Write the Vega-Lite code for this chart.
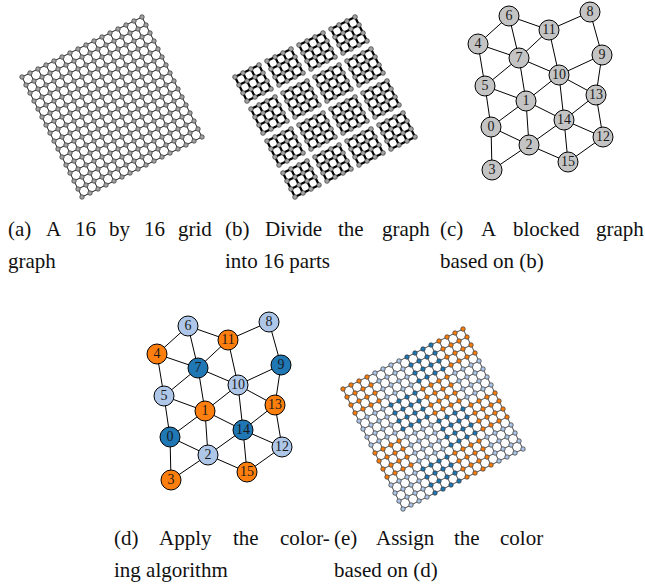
{
"$schema":"https://vega.github.io/schema/vega-lite/v6.json",
"width":645,"height":586,
"autosize":{"type":"fit","contains":"padding"},
"padding":0,
"background":"white",
"config":{"view":{"stroke":null}},
"resolve":{"scale":{"x":"independent","y":"independent"}},
"datasets":{
"nodes":[
{"id":0,"x":491,"y":127,"c":"d"},{"id":1,"x":526,"y":101,"c":"o"},{"id":2,"x":529,"y":145,"c":"l"},{"id":3,"x":492,"y":170,"c":"o"},
{"id":4,"x":478,"y":44,"c":"o"},{"id":5,"x":485,"y":86,"c":"l"},{"id":6,"x":509,"y":16,"c":"l"},{"id":7,"x":519,"y":58,"c":"d"},
{"id":8,"x":590,"y":12,"c":"l"},{"id":9,"x":602,"y":55,"c":"d"},{"id":10,"x":559,"y":75,"c":"l"},{"id":11,"x":549,"y":30,"c":"o"},
{"id":12,"x":603,"y":137,"c":"l"},{"id":13,"x":596,"y":95,"c":"o"},{"id":14,"x":564,"y":120,"c":"d"},{"id":15,"x":568,"y":162,"c":"o"}],
"edges":[
{"a":4,"b":6},{"a":6,"b":11},{"a":11,"b":8},{"a":4,"b":7},{"a":6,"b":7},{"a":7,"b":11},{"a":11,"b":10},{"a":8,"b":9},
{"a":7,"b":10},{"a":9,"b":10},{"a":9,"b":13},{"a":10,"b":13},{"a":10,"b":14},{"a":10,"b":1},{"a":5,"b":7},{"a":4,"b":5},
{"a":5,"b":1},{"a":5,"b":0},{"a":1,"b":7},{"a":1,"b":0},{"a":1,"b":2},{"a":1,"b":14},{"a":0,"b":2},{"a":0,"b":3},
{"a":3,"b":2},{"a":2,"b":14},{"a":2,"b":15},{"a":14,"b":15},{"a":14,"b":13},{"a":14,"b":12},{"a":13,"b":12},{"a":12,"b":15}],
"words":[
{"t":"(a)","x":8,"y":236},{"t":"A","x":46,"y":236},{"t":"16","x":75,"y":236},{"t":"by","x":109,"y":236},{"t":"16","x":144,"y":236},{"t":"grid","x":178,"y":236},
{"t":"(b)","x":225,"y":236},{"t":"Divide","x":265,"y":236},{"t":"the","x":338,"y":236},{"t":"graph","x":382,"y":236},
{"t":"(c)","x":440,"y":236},{"t":"A","x":481,"y":236},{"t":"blocked","x":513,"y":236},{"t":"graph","x":596,"y":236},
{"t":"graph","x":8,"y":268},{"t":"into 16 parts","x":225,"y":268},{"t":"based on (b)","x":440,"y":268},
{"t":"(d)","x":114,"y":545},{"t":"Apply","x":159,"y":545},{"t":"the","x":233,"y":545},{"t":"color-","x":280,"y":545},
{"t":"(e)","x":334,"y":545},{"t":"Assign","x":376,"y":545},{"t":"the","x":454,"y":545},{"t":"color","x":500,"y":545},
{"t":"ing algorithm","x":114,"y":577},{"t":"based on (d)","x":334,"y":577}],
"grid":[
{"i":0,"j":0,"x":0,"y":0,"b":4},{"i":0,"j":1,"x":1,"y":2,"b":4},{"i":0,"j":2,"x":2,"y":4,"b":4},{"i":0,"j":3,"x":3,"y":6,"b":4},
{"i":0,"j":4,"x":4,"y":8,"b":6},{"i":0,"j":5,"x":5,"y":10,"b":6},{"i":0,"j":6,"x":6,"y":12,"b":6},{"i":0,"j":7,"x":7,"y":14,"b":6},
{"i":0,"j":8,"x":8,"y":16,"b":11},{"i":0,"j":9,"x":9,"y":18,"b":11},{"i":0,"j":10,"x":10,"y":20,"b":11},{"i":0,"j":11,"x":11,"y":22,"b":11},
{"i":0,"j":12,"x":12,"y":24,"b":8},{"i":0,"j":13,"x":13,"y":26,"b":8},{"i":0,"j":14,"x":14,"y":28,"b":8},{"i":0,"j":15,"x":15,"y":30,"b":8},
{"i":1,"j":0,"x":2,"y":-1,"b":4},{"i":1,"j":1,"x":3,"y":1,"b":4},{"i":1,"j":2,"x":4,"y":3,"b":4},{"i":1,"j":3,"x":5,"y":5,"b":4},
{"i":1,"j":4,"x":6,"y":7,"b":6},{"i":1,"j":5,"x":7,"y":9,"b":6},{"i":1,"j":6,"x":8,"y":11,"b":6},{"i":1,"j":7,"x":9,"y":13,"b":6},
{"i":1,"j":8,"x":10,"y":15,"b":11},{"i":1,"j":9,"x":11,"y":17,"b":11},{"i":1,"j":10,"x":12,"y":19,"b":11},{"i":1,"j":11,"x":13,"y":21,"b":11},
{"i":1,"j":12,"x":14,"y":23,"b":8},{"i":1,"j":13,"x":15,"y":25,"b":8},{"i":1,"j":14,"x":16,"y":27,"b":8},{"i":1,"j":15,"x":17,"y":29,"b":8},
{"i":2,"j":0,"x":4,"y":-2,"b":4},{"i":2,"j":1,"x":5,"y":0,"b":4},{"i":2,"j":2,"x":6,"y":2,"b":4},{"i":2,"j":3,"x":7,"y":4,"b":4},
{"i":2,"j":4,"x":8,"y":6,"b":6},{"i":2,"j":5,"x":9,"y":8,"b":6},{"i":2,"j":6,"x":10,"y":10,"b":6},{"i":2,"j":7,"x":11,"y":12,"b":6},
{"i":2,"j":8,"x":12,"y":14,"b":11},{"i":2,"j":9,"x":13,"y":16,"b":11},{"i":2,"j":10,"x":14,"y":18,"b":11},{"i":2,"j":11,"x":15,"y":20,"b":11},
{"i":2,"j":12,"x":16,"y":22,"b":8},{"i":2,"j":13,"x":17,"y":24,"b":8},{"i":2,"j":14,"x":18,"y":26,"b":8},{"i":2,"j":15,"x":19,"y":28,"b":8},
{"i":3,"j":0,"x":6,"y":-3,"b":4},{"i":3,"j":1,"x":7,"y":-1,"b":4},{"i":3,"j":2,"x":8,"y":1,"b":4},{"i":3,"j":3,"x":9,"y":3,"b":4},
{"i":3,"j":4,"x":10,"y":5,"b":6},{"i":3,"j":5,"x":11,"y":7,"b":6},{"i":3,"j":6,"x":12,"y":9,"b":6},{"i":3,"j":7,"x":13,"y":11,"b":6},
{"i":3,"j":8,"x":14,"y":13,"b":11},{"i":3,"j":9,"x":15,"y":15,"b":11},{"i":3,"j":10,"x":16,"y":17,"b":11},{"i":3,"j":11,"x":17,"y":19,"b":11},
{"i":3,"j":12,"x":18,"y":21,"b":8},{"i":3,"j":13,"x":19,"y":23,"b":8},{"i":3,"j":14,"x":20,"y":25,"b":8},{"i":3,"j":15,"x":21,"y":27,"b":8},
{"i":4,"j":0,"x":8,"y":-4,"b":5},{"i":4,"j":1,"x":9,"y":-2,"b":5},{"i":4,"j":2,"x":10,"y":0,"b":5},{"i":4,"j":3,"x":11,"y":2,"b":5},
{"i":4,"j":4,"x":12,"y":4,"b":7},{"i":4,"j":5,"x":13,"y":6,"b":7},{"i":4,"j":6,"x":14,"y":8,"b":7},{"i":4,"j":7,"x":15,"y":10,"b":7},
{"i":4,"j":8,"x":16,"y":12,"b":10},{"i":4,"j":9,"x":17,"y":14,"b":10},{"i":4,"j":10,"x":18,"y":16,"b":10},{"i":4,"j":11,"x":19,"y":18,"b":10},
{"i":4,"j":12,"x":20,"y":20,"b":9},{"i":4,"j":13,"x":21,"y":22,"b":9},{"i":4,"j":14,"x":22,"y":24,"b":9},{"i":4,"j":15,"x":23,"y":26,"b":9},
{"i":5,"j":0,"x":10,"y":-5,"b":5},{"i":5,"j":1,"x":11,"y":-3,"b":5},{"i":5,"j":2,"x":12,"y":-1,"b":5},{"i":5,"j":3,"x":13,"y":1,"b":5},
{"i":5,"j":4,"x":14,"y":3,"b":7},{"i":5,"j":5,"x":15,"y":5,"b":7},{"i":5,"j":6,"x":16,"y":7,"b":7},{"i":5,"j":7,"x":17,"y":9,"b":7},
{"i":5,"j":8,"x":18,"y":11,"b":10},{"i":5,"j":9,"x":19,"y":13,"b":10},{"i":5,"j":10,"x":20,"y":15,"b":10},{"i":5,"j":11,"x":21,"y":17,"b":10},
{"i":5,"j":12,"x":22,"y":19,"b":9},{"i":5,"j":13,"x":23,"y":21,"b":9},{"i":5,"j":14,"x":24,"y":23,"b":9},{"i":5,"j":15,"x":25,"y":25,"b":9},
{"i":6,"j":0,"x":12,"y":-6,"b":5},{"i":6,"j":1,"x":13,"y":-4,"b":5},{"i":6,"j":2,"x":14,"y":-2,"b":5},{"i":6,"j":3,"x":15,"y":0,"b":5},
{"i":6,"j":4,"x":16,"y":2,"b":7},{"i":6,"j":5,"x":17,"y":4,"b":7},{"i":6,"j":6,"x":18,"y":6,"b":7},{"i":6,"j":7,"x":19,"y":8,"b":7},
{"i":6,"j":8,"x":20,"y":10,"b":10},{"i":6,"j":9,"x":21,"y":12,"b":10},{"i":6,"j":10,"x":22,"y":14,"b":10},{"i":6,"j":11,"x":23,"y":16,"b":10},
{"i":6,"j":12,"x":24,"y":18,"b":9},{"i":6,"j":13,"x":25,"y":20,"b":9},{"i":6,"j":14,"x":26,"y":22,"b":9},{"i":6,"j":15,"x":27,"y":24,"b":9},
{"i":7,"j":0,"x":14,"y":-7,"b":5},{"i":7,"j":1,"x":15,"y":-5,"b":5},{"i":7,"j":2,"x":16,"y":-3,"b":5},{"i":7,"j":3,"x":17,"y":-1,"b":5},
{"i":7,"j":4,"x":18,"y":1,"b":7},{"i":7,"j":5,"x":19,"y":3,"b":7},{"i":7,"j":6,"x":20,"y":5,"b":7},{"i":7,"j":7,"x":21,"y":7,"b":7},
{"i":7,"j":8,"x":22,"y":9,"b":10},{"i":7,"j":9,"x":23,"y":11,"b":10},{"i":7,"j":10,"x":24,"y":13,"b":10},{"i":7,"j":11,"x":25,"y":15,"b":10},
{"i":7,"j":12,"x":26,"y":17,"b":9},{"i":7,"j":13,"x":27,"y":19,"b":9},{"i":7,"j":14,"x":28,"y":21,"b":9},{"i":7,"j":15,"x":29,"y":23,"b":9},
{"i":8,"j":0,"x":16,"y":-8,"b":0},{"i":8,"j":1,"x":17,"y":-6,"b":0},{"i":8,"j":2,"x":18,"y":-4,"b":0},{"i":8,"j":3,"x":19,"y":-2,"b":0},
{"i":8,"j":4,"x":20,"y":0,"b":1},{"i":8,"j":5,"x":21,"y":2,"b":1},{"i":8,"j":6,"x":22,"y":4,"b":1},{"i":8,"j":7,"x":23,"y":6,"b":1},
{"i":8,"j":8,"x":24,"y":8,"b":14},{"i":8,"j":9,"x":25,"y":10,"b":14},{"i":8,"j":10,"x":26,"y":12,"b":14},{"i":8,"j":11,"x":27,"y":14,"b":14},
{"i":8,"j":12,"x":28,"y":16,"b":13},{"i":8,"j":13,"x":29,"y":18,"b":13},{"i":8,"j":14,"x":30,"y":20,"b":13},{"i":8,"j":15,"x":31,"y":22,"b":13},
{"i":9,"j":0,"x":18,"y":-9,"b":0},{"i":9,"j":1,"x":19,"y":-7,"b":0},{"i":9,"j":2,"x":20,"y":-5,"b":0},{"i":9,"j":3,"x":21,"y":-3,"b":0},
{"i":9,"j":4,"x":22,"y":-1,"b":1},{"i":9,"j":5,"x":23,"y":1,"b":1},{"i":9,"j":6,"x":24,"y":3,"b":1},{"i":9,"j":7,"x":25,"y":5,"b":1},
{"i":9,"j":8,"x":26,"y":7,"b":14},{"i":9,"j":9,"x":27,"y":9,"b":14},{"i":9,"j":10,"x":28,"y":11,"b":14},{"i":9,"j":11,"x":29,"y":13,"b":14},
{"i":9,"j":12,"x":30,"y":15,"b":13},{"i":9,"j":13,"x":31,"y":17,"b":13},{"i":9,"j":14,"x":32,"y":19,"b":13},{"i":9,"j":15,"x":33,"y":21,"b":13},
{"i":10,"j":0,"x":20,"y":-10,"b":0},{"i":10,"j":1,"x":21,"y":-8,"b":0},{"i":10,"j":2,"x":22,"y":-6,"b":0},{"i":10,"j":3,"x":23,"y":-4,"b":0},
{"i":10,"j":4,"x":24,"y":-2,"b":1},{"i":10,"j":5,"x":25,"y":0,"b":1},{"i":10,"j":6,"x":26,"y":2,"b":1},{"i":10,"j":7,"x":27,"y":4,"b":1},
{"i":10,"j":8,"x":28,"y":6,"b":14},{"i":10,"j":9,"x":29,"y":8,"b":14},{"i":10,"j":10,"x":30,"y":10,"b":14},{"i":10,"j":11,"x":31,"y":12,"b":14},
{"i":10,"j":12,"x":32,"y":14,"b":13},{"i":10,"j":13,"x":33,"y":16,"b":13},{"i":10,"j":14,"x":34,"y":18,"b":13},{"i":10,"j":15,"x":35,"y":20,"b":13},
{"i":11,"j":0,"x":22,"y":-11,"b":0},{"i":11,"j":1,"x":23,"y":-9,"b":0},{"i":11,"j":2,"x":24,"y":-7,"b":0},{"i":11,"j":3,"x":25,"y":-5,"b":0},
{"i":11,"j":4,"x":26,"y":-3,"b":1},{"i":11,"j":5,"x":27,"y":-1,"b":1},{"i":11,"j":6,"x":28,"y":1,"b":1},{"i":11,"j":7,"x":29,"y":3,"b":1},
{"i":11,"j":8,"x":30,"y":5,"b":14},{"i":11,"j":9,"x":31,"y":7,"b":14},{"i":11,"j":10,"x":32,"y":9,"b":14},{"i":11,"j":11,"x":33,"y":11,"b":14},
{"i":11,"j":12,"x":34,"y":13,"b":13},{"i":11,"j":13,"x":35,"y":15,"b":13},{"i":11,"j":14,"x":36,"y":17,"b":13},{"i":11,"j":15,"x":37,"y":19,"b":13},
{"i":12,"j":0,"x":24,"y":-12,"b":3},{"i":12,"j":1,"x":25,"y":-10,"b":3},{"i":12,"j":2,"x":26,"y":-8,"b":3},{"i":12,"j":3,"x":27,"y":-6,"b":3},
{"i":12,"j":4,"x":28,"y":-4,"b":2},{"i":12,"j":5,"x":29,"y":-2,"b":2},{"i":12,"j":6,"x":30,"y":0,"b":2},{"i":12,"j":7,"x":31,"y":2,"b":2},
{"i":12,"j":8,"x":32,"y":4,"b":15},{"i":12,"j":9,"x":33,"y":6,"b":15},{"i":12,"j":10,"x":34,"y":8,"b":15},{"i":12,"j":11,"x":35,"y":10,"b":15},
{"i":12,"j":12,"x":36,"y":12,"b":12},{"i":12,"j":13,"x":37,"y":14,"b":12},{"i":12,"j":14,"x":38,"y":16,"b":12},{"i":12,"j":15,"x":39,"y":18,"b":12},
{"i":13,"j":0,"x":26,"y":-13,"b":3},{"i":13,"j":1,"x":27,"y":-11,"b":3},{"i":13,"j":2,"x":28,"y":-9,"b":3},{"i":13,"j":3,"x":29,"y":-7,"b":3},
{"i":13,"j":4,"x":30,"y":-5,"b":2},{"i":13,"j":5,"x":31,"y":-3,"b":2},{"i":13,"j":6,"x":32,"y":-1,"b":2},{"i":13,"j":7,"x":33,"y":1,"b":2},
{"i":13,"j":8,"x":34,"y":3,"b":15},{"i":13,"j":9,"x":35,"y":5,"b":15},{"i":13,"j":10,"x":36,"y":7,"b":15},{"i":13,"j":11,"x":37,"y":9,"b":15},
{"i":13,"j":12,"x":38,"y":11,"b":12},{"i":13,"j":13,"x":39,"y":13,"b":12},{"i":13,"j":14,"x":40,"y":15,"b":12},{"i":13,"j":15,"x":41,"y":17,"b":12},
{"i":14,"j":0,"x":28,"y":-14,"b":3},{"i":14,"j":1,"x":29,"y":-12,"b":3},{"i":14,"j":2,"x":30,"y":-10,"b":3},{"i":14,"j":3,"x":31,"y":-8,"b":3},
{"i":14,"j":4,"x":32,"y":-6,"b":2},{"i":14,"j":5,"x":33,"y":-4,"b":2},{"i":14,"j":6,"x":34,"y":-2,"b":2},{"i":14,"j":7,"x":35,"y":0,"b":2},
{"i":14,"j":8,"x":36,"y":2,"b":15},{"i":14,"j":9,"x":37,"y":4,"b":15},{"i":14,"j":10,"x":38,"y":6,"b":15},{"i":14,"j":11,"x":39,"y":8,"b":15},
{"i":14,"j":12,"x":40,"y":10,"b":12},{"i":14,"j":13,"x":41,"y":12,"b":12},{"i":14,"j":14,"x":42,"y":14,"b":12},{"i":14,"j":15,"x":43,"y":16,"b":12},
{"i":15,"j":0,"x":30,"y":-15,"b":3},{"i":15,"j":1,"x":31,"y":-13,"b":3},{"i":15,"j":2,"x":32,"y":-11,"b":3},{"i":15,"j":3,"x":33,"y":-9,"b":3},
{"i":15,"j":4,"x":34,"y":-7,"b":2},{"i":15,"j":5,"x":35,"y":-5,"b":2},{"i":15,"j":6,"x":36,"y":-3,"b":2},{"i":15,"j":7,"x":37,"y":-1,"b":2},
{"i":15,"j":8,"x":38,"y":1,"b":15},{"i":15,"j":9,"x":39,"y":3,"b":15},{"i":15,"j":10,"x":40,"y":5,"b":15},{"i":15,"j":11,"x":41,"y":7,"b":15},
{"i":15,"j":12,"x":42,"y":9,"b":12},{"i":15,"j":13,"x":43,"y":11,"b":12},{"i":15,"j":14,"x":44,"y":13,"b":12},{"i":15,"j":15,"x":45,"y":15,"b":12}]
},
"layer":[
{"data":{"name":"grid"},
 "layer":[
  {"mark":{"type":"line","stroke":"#1a1a1a","strokeWidth":1},
   "encoding":{"x":{"field":"x","type":"quantitative","scale":{"domain":[-5.5,155.75],"nice":false,"zero":false},"axis":null},
               "y":{"field":"y","type":"quantitative","scale":{"domain":[-19.25,127.25],"nice":false,"zero":false,"reverse":true},"axis":null},
               "detail":{"field":"j","type":"nominal"},"order":{"field":"i","type":"quantitative"}}},
  {"mark":{"type":"line","stroke":"#1a1a1a","strokeWidth":1},
   "encoding":{"x":{"field":"x","type":"quantitative","scale":{"domain":[-5.5,155.75],"nice":false,"zero":false},"axis":null},
               "y":{"field":"y","type":"quantitative","scale":{"domain":[-19.25,127.25],"nice":false,"zero":false,"reverse":true},"axis":null},
               "detail":{"field":"i","type":"nominal"},"order":{"field":"j","type":"quantitative"}}},
  {"mark":{"type":"circle","size":20,"fill":"#a3a3a3","stroke":"#333333","strokeWidth":0.7,"opacity":1},
   "encoding":{"x":{"field":"x","type":"quantitative","scale":{"domain":[-5.5,155.75],"nice":false,"zero":false},"axis":null},
               "y":{"field":"y","type":"quantitative","scale":{"domain":[-19.25,127.25],"nice":false,"zero":false,"reverse":true},"axis":null}}}
 ]},
{"data":{"name":"grid"},
 "layer":[
  {"mark":{"type":"line","stroke":"#000000","strokeWidth":2.2},
   "encoding":{"x":{"field":"x","type":"quantitative","scale":{"domain":[-58.75,102.5],"nice":false,"zero":false},"axis":null},
               "y":{"field":"y","type":"quantitative","scale":{"domain":[-19.25,127.25],"nice":false,"zero":false,"reverse":true},"axis":null},
               "detail":[{"field":"j","type":"nominal"},{"field":"b","type":"nominal"}],"order":{"field":"i","type":"quantitative"}}},
  {"mark":{"type":"line","stroke":"#000000","strokeWidth":2.2},
   "encoding":{"x":{"field":"x","type":"quantitative","scale":{"domain":[-58.75,102.5],"nice":false,"zero":false},"axis":null},
               "y":{"field":"y","type":"quantitative","scale":{"domain":[-19.25,127.25],"nice":false,"zero":false,"reverse":true},"axis":null},
               "detail":[{"field":"i","type":"nominal"},{"field":"b","type":"nominal"}],"order":{"field":"j","type":"quantitative"}}},
  {"mark":{"type":"circle","size":22,"fill":"#a3a3a3","stroke":"#333333","strokeWidth":0.7,"opacity":1},
   "encoding":{"x":{"field":"x","type":"quantitative","scale":{"domain":[-58.75,102.5],"nice":false,"zero":false},"axis":null},
               "y":{"field":"y","type":"quantitative","scale":{"domain":[-19.25,127.25],"nice":false,"zero":false,"reverse":true},"axis":null}}}
 ]},
{"data":{"name":"grid"},
 "transform":[{"lookup":"b","from":{"data":{"name":"nodes"},"key":"id","fields":["c"]}}],
 "layer":[
  {"mark":{"type":"line","stroke":"#333333","strokeWidth":0.9},
   "encoding":{"x":{"field":"x","type":"quantitative","scale":{"domain":[-85.75,75.5],"nice":false,"zero":false},"axis":null},
               "y":{"field":"y","type":"quantitative","scale":{"domain":[-97.25,49.25],"nice":false,"zero":false,"reverse":true},"axis":null},
               "detail":{"field":"j","type":"nominal"},"order":{"field":"i","type":"quantitative"}}},
  {"mark":{"type":"line","stroke":"#333333","strokeWidth":0.9},
   "encoding":{"x":{"field":"x","type":"quantitative","scale":{"domain":[-85.75,75.5],"nice":false,"zero":false},"axis":null},
               "y":{"field":"y","type":"quantitative","scale":{"domain":[-97.25,49.25],"nice":false,"zero":false,"reverse":true},"axis":null},
               "detail":{"field":"i","type":"nominal"},"order":{"field":"j","type":"quantitative"}}},
  {"mark":{"type":"circle","size":20,"stroke":"#333333","strokeWidth":0.7,"opacity":1},
   "encoding":{"x":{"field":"x","type":"quantitative","scale":{"domain":[-85.75,75.5],"nice":false,"zero":false},"axis":null},
               "y":{"field":"y","type":"quantitative","scale":{"domain":[-97.25,49.25],"nice":false,"zero":false,"reverse":true},"axis":null},
               "color":{"field":"c","type":"nominal","scale":{"domain":["o","l","d"],"range":["#ff7f0e","#aec7e8","#1f77b4"]},"legend":null}}}
 ]},
{"layer":[
  {"data":{"name":"edges"},
   "transform":[{"lookup":"a","from":{"data":{"name":"nodes"},"key":"id","fields":["x","y"]},"as":["ax","ay"]},
                {"lookup":"b","from":{"data":{"name":"nodes"},"key":"id","fields":["x","y"]},"as":["bx","by"]}],
   "mark":{"type":"rule","stroke":"#000000","strokeWidth":1},
   "encoding":{"x":{"field":"ax","type":"quantitative","scale":{"domain":[0,645],"nice":false,"zero":false},"axis":null},
               "y":{"field":"ay","type":"quantitative","scale":{"domain":[0,586],"nice":false,"zero":false,"reverse":true},"axis":null},
               "x2":{"field":"bx"},"y2":{"field":"by"}}},
  {"data":{"name":"nodes"},
   "mark":{"type":"circle","size":400,"fill":"#c4c4c4","stroke":"#000000","strokeWidth":1,"opacity":1},
   "encoding":{"x":{"field":"x","type":"quantitative","scale":{"domain":[0,645],"nice":false,"zero":false},"axis":null},
               "y":{"field":"y","type":"quantitative","scale":{"domain":[0,586],"nice":false,"zero":false,"reverse":true},"axis":null}}},
  {"data":{"name":"nodes"},
   "mark":{"type":"text","font":"Liberation Serif","fontSize":14,"fill":"#1a1a1a","align":"center","baseline":"middle"},
   "encoding":{"x":{"field":"x","type":"quantitative","scale":{"domain":[0,645],"nice":false,"zero":false},"axis":null},
               "y":{"field":"y","type":"quantitative","scale":{"domain":[0,586],"nice":false,"zero":false,"reverse":true},"axis":null},
               "text":{"field":"id","type":"nominal"}}}
 ]},
{"layer":[
  {"data":{"name":"edges"},
   "transform":[{"lookup":"a","from":{"data":{"name":"nodes"},"key":"id","fields":["x","y"]},"as":["ax","ay"]},
                {"lookup":"b","from":{"data":{"name":"nodes"},"key":"id","fields":["x","y"]},"as":["bx","by"]}],
   "mark":{"type":"rule","stroke":"#000000","strokeWidth":1},
   "encoding":{"x":{"field":"ax","type":"quantitative","scale":{"domain":[321,966],"nice":false,"zero":false},"axis":null},
               "y":{"field":"ay","type":"quantitative","scale":{"domain":[-310,276],"nice":false,"zero":false,"reverse":true},"axis":null},
               "x2":{"field":"bx"},"y2":{"field":"by"}}},
  {"data":{"name":"nodes"},
   "mark":{"type":"circle","size":400,"stroke":"#000000","strokeWidth":1,"opacity":1},
   "encoding":{"x":{"field":"x","type":"quantitative","scale":{"domain":[321,966],"nice":false,"zero":false},"axis":null},
               "y":{"field":"y","type":"quantitative","scale":{"domain":[-310,276],"nice":false,"zero":false,"reverse":true},"axis":null},
               "color":{"field":"c","type":"nominal","scale":{"domain":["o","l","d"],"range":["#ff7f0e","#aec7e8","#1f77b4"]},"legend":null}}},
  {"data":{"name":"nodes"},
   "mark":{"type":"text","font":"Liberation Serif","fontSize":14,"fill":"#1a1a1a","align":"center","baseline":"middle"},
   "encoding":{"x":{"field":"x","type":"quantitative","scale":{"domain":[321,966],"nice":false,"zero":false},"axis":null},
               "y":{"field":"y","type":"quantitative","scale":{"domain":[-310,276],"nice":false,"zero":false,"reverse":true},"axis":null},
               "text":{"field":"id","type":"nominal"}}}
 ]},
{"data":{"name":"words"},
 "mark":{"type":"text","font":"Liberation Serif","fontSize":21,"fill":"#111111","align":"left","baseline":"alphabetic"},
 "encoding":{"x":{"field":"x","type":"quantitative","scale":{"domain":[0,645],"nice":false,"zero":false},"axis":null},
             "y":{"field":"y","type":"quantitative","scale":{"domain":[0,586],"nice":false,"zero":false,"reverse":true},"axis":null},
             "text":{"field":"t","type":"nominal"}}}
]
}
